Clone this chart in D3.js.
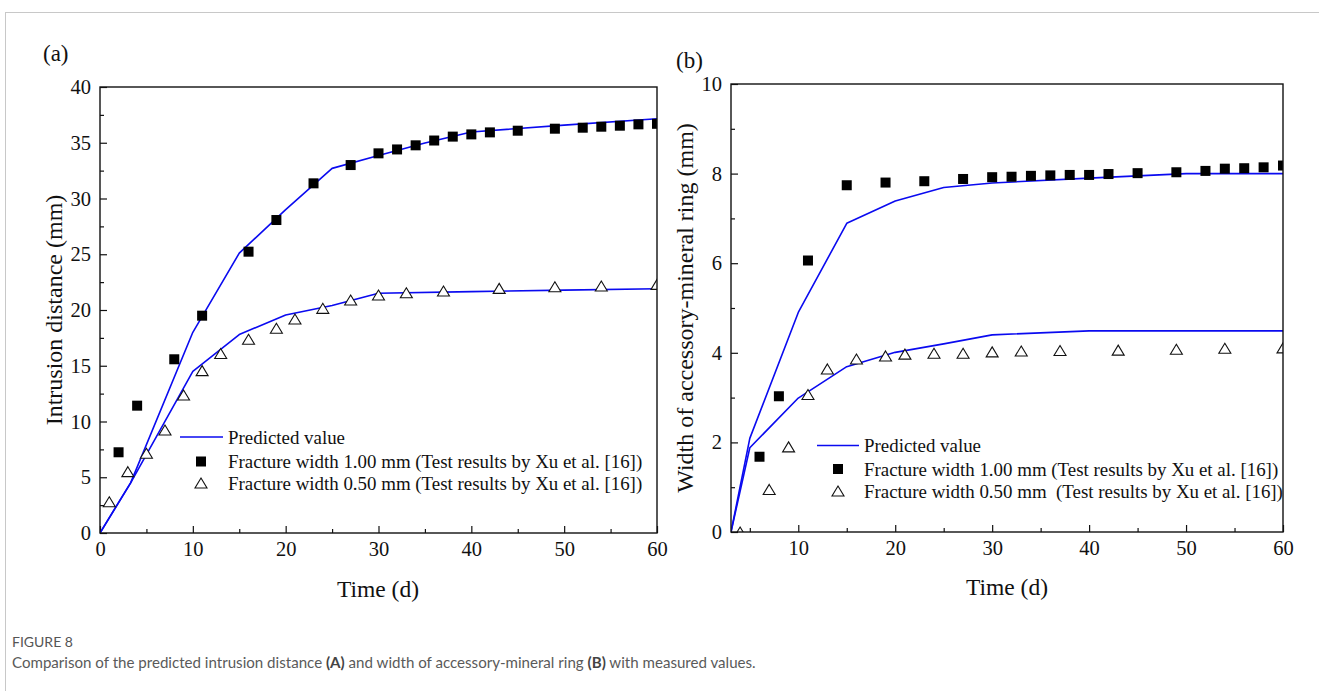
<!DOCTYPE html>
<html>
<head>
<meta charset="utf-8">
<script src="https://cdn.jsdelivr.net/npm/d3@7"></script>
<style>
  html, body { margin: 0; padding: 0; background: #fff; }
  svg { display: block; }
</style>
</head>
<body>
<svg id="chart" width="1319" height="691"></svg>
<script>
// ---------- DATA ----------
// Panel (a): intrusion distance (mm) vs time (d)
const aTimeFilled = [2, 4, 8, 11, 16, 19, 23, 27, 30, 32, 34, 36, 38, 40, 42, 45, 49, 52, 54, 56, 58, 60];
const aValFilled  = [7.24, 11.42, 15.58, 19.49, 25.23, 28.07, 31.36, 33.0, 34.05, 34.4, 34.77, 35.2, 35.55, 35.75, 35.93, 36.08, 36.26, 36.35, 36.44, 36.53, 36.65, 36.7];
const aTimeOpen   = [1, 3, 5, 7, 9, 11, 13, 16, 19, 21, 24, 27, 30, 33, 37, 43, 49, 54, 60];
const aValOpen    = [2.8, 5.5, 7.15, 9.24, 12.38, 14.56, 16.1, 17.37, 18.36, 19.19, 20.15, 20.9, 21.35, 21.55, 21.7, 21.94, 22.09, 22.15, 22.3];
const aPredTimeUpper = [0, 3.3, 10, 15, 20, 25, 30, 35, 40, 50, 60];
const aPredValUpper  = [0, 4.5, 18, 25.1, 29, 32.7, 33.85, 34.97, 35.97, 36.58, 37.15];
const aPredTimeLower = [0, 3.3, 10, 15, 20, 25, 30, 40, 50, 60];
const aPredValLower  = [0, 4.5, 14.5, 17.8, 19.55, 20.4, 21.5, 21.65, 21.78, 21.9];

// Panel (b): width of accessory-mineral ring (mm) vs time (d)
const bTimeFilled = [6, 8, 11, 15, 19, 23, 27, 30, 32, 34, 36, 38, 40, 42, 45, 49, 52, 54, 56, 58, 60];
const bValFilled  = [1.68, 3.03, 6.06, 7.74, 7.80, 7.83, 7.88, 7.92, 7.93, 7.95, 7.96, 7.97, 7.97, 7.99, 8.01, 8.03, 8.06, 8.11, 8.12, 8.14, 8.18];
const bTimeOpen   = [4, 7, 9, 11, 13, 16, 19, 21, 24, 27, 30, 33, 37, 43, 49, 54, 60];
const bValOpen    = [0, 0.95, 1.9, 3.07, 3.64, 3.86, 3.93, 3.97, 3.99, 3.99, 4.02, 4.04, 4.05, 4.06, 4.08, 4.10, 4.11];
const bPredTimeUpper = [3.06, 5, 10, 15, 20, 25, 30, 40, 50, 60];
const bPredValUpper  = [0, 2.09, 4.9, 6.89, 7.39, 7.69, 7.79, 7.9, 8.0, 8.0];
const bPredTimeLower = [3.06, 5, 10, 15, 20, 25, 30, 40, 50, 60];
const bPredValLower  = [0, 1.88, 2.99, 3.69, 4.01, 4.2, 4.4, 4.49, 4.49, 4.49];

// Tick values
const aXMajor = [0, 10, 20, 30, 40, 50, 60];
const aXMinor = [5, 15, 25, 35, 45, 55];
const aYMajor = [0, 5, 10, 15, 20, 25, 30, 35, 40];
const aYMinor = [2.5, 7.5, 12.5, 17.5, 22.5, 27.5, 32.5, 37.5];
const bXMajor = [10, 20, 30, 40, 50, 60];
const bXMinor = [5, 15, 25, 35, 45, 55];
const bYMajor = [0, 2, 4, 6, 8, 10];
const bYMinor = [1, 3, 5, 7, 9];

const legendLabelsA = ["Predicted value",
  "Fracture width 1.00 mm (Test results by Xu et al. [16])",
  "Fracture width 0.50 mm (Test results by Xu et al. [16])"];
const legendLabelsB = ["Predicted value",
  "Fracture width 1.00 mm (Test results by Xu et al. [16])",
  "Fracture width 0.50 mm\u00a0 (Test results by Xu et al. [16])"];

// ---------- DRAWING ----------
const svg = d3.select("#chart");
const SERIF = "'Liberation Serif', 'Times New Roman', serif";
const BLUE = "#0a0af0";

// outer frame lines
svg.append("line").attr("x1", 6).attr("x2", 1319).attr("y1", 12.5).attr("y2", 12.5)
  .attr("stroke", "#c8c8c8").attr("stroke-width", 1);
svg.append("line").attr("x1", 5.5).attr("x2", 5.5).attr("y1", 12).attr("y2", 691)
  .attr("stroke", "#c8c8c8").attr("stroke-width", 1);

const tri = (w, h) => `M0,${-h/2}L${w/2},${h/2}L${-w/2},${h/2}Z`;

function panel(cfg) {
  const {id, box, xDom, yDom, xMajor, xMinor, yMajor, yMinor,
         filled, open, upper, lower, yTitle, tag, tagPos, legend, xTitlePos, yTitleX} = cfg;
  const x = d3.scaleLinear().domain(xDom).range([box.l, box.r]);
  const y = d3.scaleLinear().domain(yDom).range([box.b, box.t]);
  const g = svg.append("g");

  const clipId = "clip" + id;
  svg.append("clipPath").attr("id", clipId).append("rect")
    .attr("x", box.l).attr("y", box.t).attr("width", box.r - box.l).attr("height", box.b - box.t);

  // axes (inward ticks)
  const axFont = g => g.selectAll("text").attr("font-family", SERIF).attr("font-size", 20.5).attr("fill", "#111");
  g.append("g").attr("transform", `translate(0,${box.b})`)
    .call(d3.axisBottom(x).tickValues(xMajor).tickSizeInner(-7).tickSizeOuter(0).tickPadding(8).tickFormat(d3.format("d")))
    .call(a => a.select(".domain").remove()).call(axFont)
    .call(a => a.selectAll("line").attr("stroke", "#111").attr("stroke-width", 1.2));
  g.append("g").attr("transform", `translate(0,${box.b})`)
    .call(d3.axisBottom(x).tickValues(xMinor).tickSizeInner(-4).tickSizeOuter(0).tickFormat(""))
    .call(a => a.select(".domain").remove())
    .call(a => a.selectAll("line").attr("stroke", "#111").attr("stroke-width", 1.2));
  g.append("g").attr("transform", `translate(${box.l},0)`)
    .call(d3.axisLeft(y).tickValues(yMajor).tickSizeInner(-7).tickSizeOuter(0).tickPadding(9).tickFormat(d3.format("d")))
    .call(a => a.select(".domain").remove()).call(axFont)
    .call(a => a.selectAll("line").attr("stroke", "#111").attr("stroke-width", 1.2));
  g.append("g").attr("transform", `translate(${box.l},0)`)
    .call(d3.axisLeft(y).tickValues(yMinor).tickSizeInner(-4).tickSizeOuter(0).tickFormat(""))
    .call(a => a.select(".domain").remove())
    .call(a => a.selectAll("line").attr("stroke", "#111").attr("stroke-width", 1.2));

  const plot = g.append("g").attr("clip-path", `url(#${clipId})`);
  const line = d3.line().x(d => x(d[0])).y(d => y(d[1]));
  [upper, lower].forEach(s => {
    plot.append("path").datum(d3.zip(s.t, s.v)).attr("d", line)
      .attr("fill", "none").attr("stroke", BLUE).attr("stroke-width", 1.6).attr("stroke-linejoin", "round");
  });
  plot.selectAll(".sq").data(d3.zip(filled.t, filled.v)).join("rect")
    .attr("x", d => x(d[0]) - 5).attr("y", d => y(d[1]) - 5)
    .attr("width", 10).attr("height", 10).attr("fill", "#000");
  plot.selectAll(".tr").data(d3.zip(open.t, open.v)).join("path")
    .attr("transform", d => `translate(${x(d[0])},${y(d[1])})`)
    .attr("d", tri(12, 10)).attr("fill", "#fff").attr("stroke", "#111").attr("stroke-width", 1.1);

  // frame
  g.append("rect").attr("x", box.l).attr("y", box.t).attr("width", box.r - box.l).attr("height", box.b - box.t)
    .attr("fill", "none").attr("stroke", "#111").attr("stroke-width", 1.4);

  // titles
  g.append("text").attr("x", xTitlePos[0]).attr("y", xTitlePos[1]).attr("text-anchor", "middle")
    .attr("font-family", SERIF).attr("font-size", 23.5).attr("fill", "#111").text("Time (d)");
  g.append("text").attr("transform", `translate(${yTitleX},${(box.t + box.b) / 2}) rotate(-90)`)
    .attr("text-anchor", "middle").attr("dy", "0.35em")
    .attr("font-family", SERIF).attr("font-size", 24).attr("fill", "#111").text(yTitle);
  g.append("text").attr("x", tagPos[0]).attr("y", tagPos[1])
    .attr("font-family", SERIF).attr("font-size", 23).attr("fill", "#111").text(tag);

  // legend
  const L = legend;
  const lg = g.append("g");
  lg.append("line").attr("x1", L.lineX[0]).attr("x2", L.lineX[1]).attr("y1", L.rows[0]).attr("y2", L.rows[0])
    .attr("stroke", BLUE).attr("stroke-width", 1.6);
  lg.append("rect").attr("x", L.mx - 5).attr("y", L.rows[1] - 5).attr("width", 10).attr("height", 10).attr("fill", "#000");
  lg.append("path").attr("transform", `translate(${L.mx},${L.rows[2]})`).attr("d", tri(12, 10))
    .attr("fill", "#fff").attr("stroke", "#111").attr("stroke-width", 1.1);
  lg.selectAll("text.lab").data(L.labels).join("text")
    .attr("x", L.tx).attr("y", (d, i) => L.rows[i]).attr("dy", "0.35em")
    .attr("font-family", SERIF).attr("font-size", 18.9).attr("fill", "#111").text(d => d);
}

panel({
  id: "A", box: {l: 100, r: 657, t: 87, b: 533},
  xDom: [0, 60], yDom: [0, 40],
  xMajor: aXMajor, xMinor: aXMinor, yMajor: aYMajor, yMinor: aYMinor,
  filled: {t: aTimeFilled, v: aValFilled}, open: {t: aTimeOpen, v: aValOpen},
  upper: {t: aPredTimeUpper, v: aPredValUpper}, lower: {t: aPredTimeLower, v: aPredValLower},
  yTitle: "Intrusion distance (mm)", yTitleX: 54, tag: "(a)", tagPos: [43, 61],
  xTitlePos: [378, 597],
  legend: {lineX: [180, 223], mx: 201, tx: 228, rows: [437, 461.5, 483], labels: legendLabelsA}
});

panel({
  id: "B", box: {l: 731, r: 1283, t: 84, b: 532},
  xDom: [3.06, 60], yDom: [0, 10],
  xMajor: bXMajor, xMinor: bXMinor, yMajor: bYMajor, yMinor: bYMinor,
  filled: {t: bTimeFilled, v: bValFilled}, open: {t: bTimeOpen, v: bValOpen},
  upper: {t: bPredTimeUpper, v: bPredValUpper}, lower: {t: bPredTimeLower, v: bPredValLower},
  yTitle: "Width of accessory-mineral ring (mm)", yTitleX: 685, tag: "(b)", tagPos: [676, 68],
  xTitlePos: [1007, 595],
  legend: {lineX: [817, 859], mx: 838, tx: 864, rows: [445.5, 469, 491], labels: legendLabelsB}
});

// caption
svg.append("text").attr("x", 12).attr("y", 647)
  .attr("font-family", "Lato, 'Open Sans', sans-serif").attr("font-size", 14)
  .attr("fill", "#555").text("FIGURE 8");
const cap = svg.append("text").attr("x", 12).attr("y", 667.5)
  .attr("font-family", "Lato, 'Open Sans', sans-serif").attr("font-size", 15.1).attr("fill", "#5a5a5a");
const capParts = [
  ["Comparison of the predicted intrusion distance ", false], ["(A)", true],
  [" and width of accessory-mineral ring ", false], ["(B)", true], [" with measured values.", false]];
capParts.forEach(([t, b]) => cap.append("tspan").attr("font-weight", b ? 700 : 400)
  .attr("fill", b ? "#444" : "#5a5a5a").text(t));
</script>
</body>
</html>
